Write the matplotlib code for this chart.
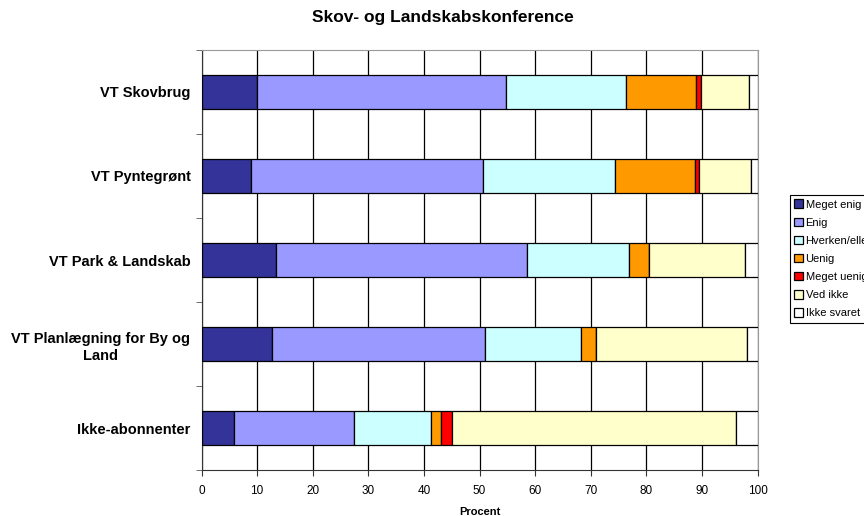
import numpy as np
import matplotlib.pyplot as plt
from matplotlib.ticker import FixedLocator

plt.rcParams['font.family'] = ['Liberation Sans', 'DejaVu Sans']

categories = ['VT Skovbrug', 'VT Pyntegrønt', 'VT Park & Landskab',
              'VT Planlægning for By og\nLand', 'Ikke-abonnenter']
series_names = ['Meget enig', 'Enig', 'Hverken/eller', 'Uenig',
                'Meget uenig', 'Ved ikke', 'Ikke svaret']

meget_enig = [10.0, 8.9, 13.4, 12.6, 5.9]
enig = [44.8, 41.7, 45.2, 38.3, 21.6]
hverken = [21.6, 23.8, 18.3, 17.3, 13.7]
uenig = [12.5, 14.4, 3.6, 2.7, 1.9]
meget_uenig = [1.0, 0.6, 0.0, 0.0, 2.0]
ved_ikke = [8.6, 9.5, 17.3, 27.2, 51.0]
ikke_svaret = [1.5, 1.1, 2.2, 1.9, 3.9]

colors = ['#333399', '#9999FF', '#CCFFFF', '#FF9900', '#FF0000', '#FFFFCC', '#FFFFFF']

fig = plt.figure(figsize=(8.64, 5.16), dpi=100)
ax = fig.add_axes([201.5 / 864, 1 - 470 / 516, 556 / 864, 420 / 516])

y = np.arange(len(categories))
left = np.zeros(len(categories))
all_series = [meget_enig, enig, hverken, uenig, meget_uenig, ved_ikke, ikke_svaret]
for name, vals, col in zip(series_names, all_series, colors):
    vals = np.array(vals)
    ax.barh(y, vals, left=left, height=0.4, color=col, edgecolor='black',
            linewidth=0.9, label=name, zorder=3)
    left += vals

ax.set_xlim(0, 100)
ax.set_ylim(len(categories) - 0.5, -0.5)
ax.set_xticks(np.arange(0, 101, 10))
ax.xaxis.grid(True, color='black', linewidth=0.9, zorder=0)
ax.set_yticks(y)
ax.set_yticklabels(categories, fontweight='bold', fontsize=10.5,
                   multialignment='center', linespacing=1.35)
ax.yaxis.set_minor_locator(FixedLocator(np.arange(-0.5, len(categories), 1)))
ax.tick_params(axis='y', which='major', length=0, pad=8)
ax.tick_params(axis='y', which='minor', length=4, color='#555555')
ax.tick_params(axis='x', labelsize=8.5, length=4, pad=7, color='#333333')

ax.spines['top'].set_color('#999999')
ax.spines['right'].set_color('#999999')
ax.spines['left'].set_color('#333333')
ax.spines['bottom'].set_color('#333333')

ax.set_xlabel('Procent', fontweight='bold', fontsize=8, labelpad=7)
fig.suptitle('Skov- og Landskabskonference', fontweight='bold', fontsize=12.5,
             x=443 / 864, y=1 - 10 / 516)

leg = fig.legend(loc='upper left', bbox_to_anchor=(790 / 864, 1 - 195 / 516),
                 fontsize=8, handlelength=0.8, handleheight=0.8, handletextpad=0.2,
                 labelspacing=0.72, borderpad=0.4, borderaxespad=0, fancybox=False,
                 framealpha=1)
leg.get_frame().set_edgecolor('black')
leg.get_frame().set_linewidth(0.8)

fig.savefig('out.png', dpi=100)
